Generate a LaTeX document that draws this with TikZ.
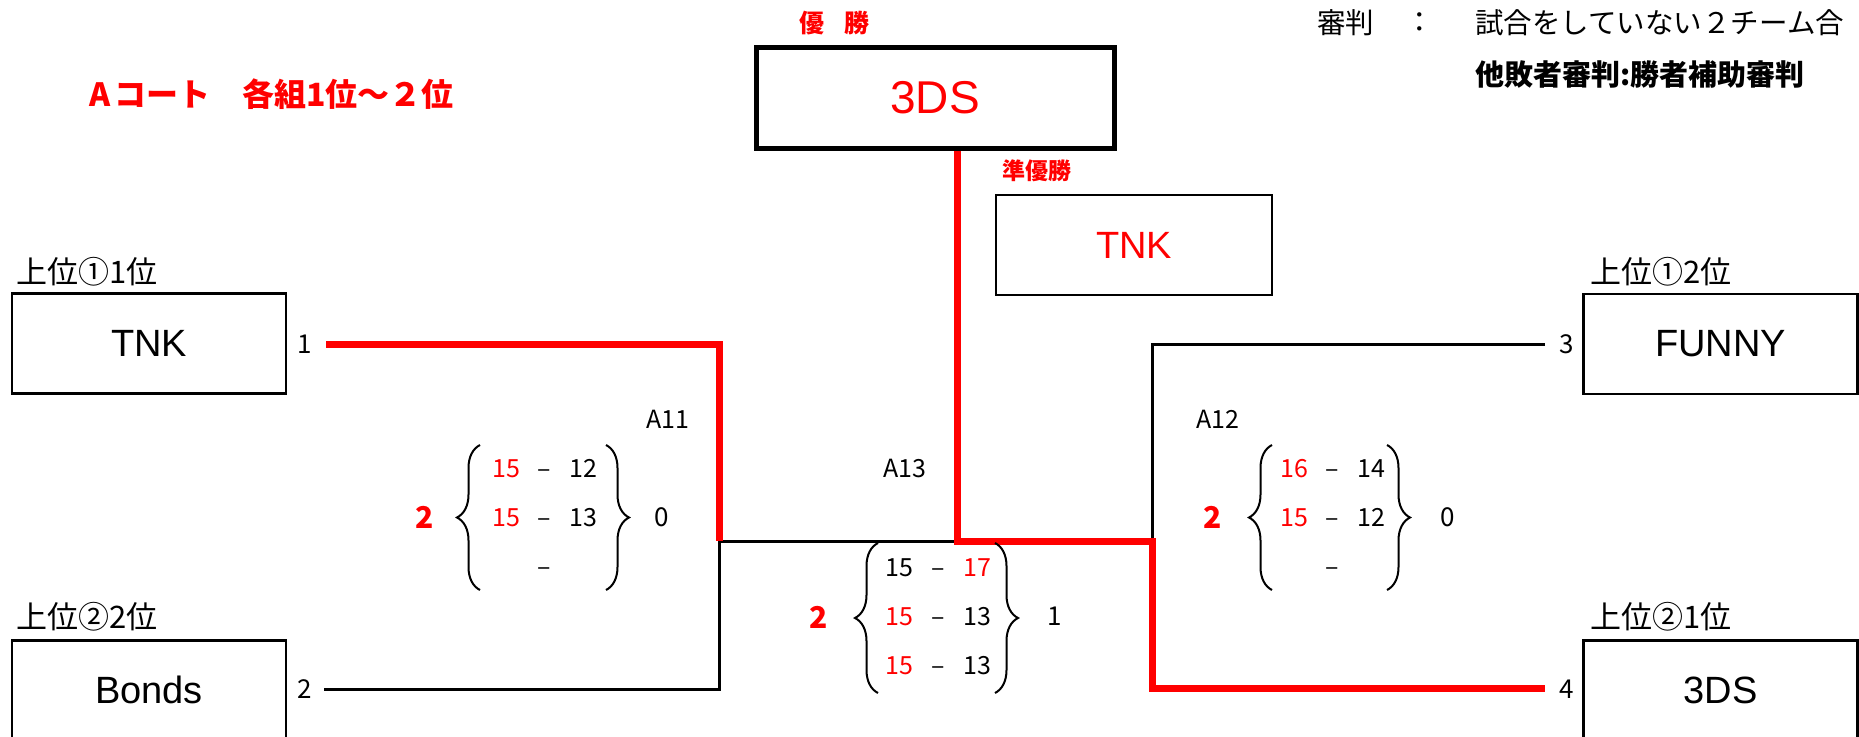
\documentclass[tikz,border=0pt]{standalone}
\usepackage{fontspec}
\setmainfont{Liberation Sans}
\newfontfamily\jp{Noto Sans CJK JP}
\usetikzlibrary{decorations.pathreplacing}
\tikzset{
  teambox/.style={draw, line width=2.7pt, minimum width=274pt, minimum height=100pt, inner sep=0pt, font=\fontsize{38}{40}\selectfont},
  blk/.style={draw=black, line width=3pt},
  redl/.style={draw=red, line width=7pt},
  lab/.style={font=\jp\fontsize{31}{32}\selectfont, inner sep=0pt},
  port/.style={font=\jp\fontsize{26}{28}\selectfont, inner sep=0pt, text height=19pt, text depth=0pt},
  sc/.style={font=\jp\fontsize{25}{28}\selectfont, inner sep=0pt, text height=18pt, text depth=0pt},
  win2/.style={font=\jp\bfseries\fontsize{30}{32}\selectfont, text=red, inner sep=0pt},
  bracek/.style={decorate, decoration={brace, amplitude=23pt}, line width=2pt},
}
\begin{document}
\begin{tikzpicture}[x=1pt,y=-1pt]
\useasboundingbox (0,0) rectangle (1859,736);

% headings
\node[font=\jp\bfseries\fontsize{32}{34}\selectfont, text=red, anchor=west, inner sep=0pt] (ttl) at (89,94) {A\hspace{4pt}コート　各組1位～２位};
\node[font=\jp\bfseries\fontsize{25}{28}\selectfont, text=red, inner sep=0pt] (yusho) at (834,23) {優\hspace{20pt}勝};
\node[font=\jp\bfseries\fontsize{23}{26}\selectfont, text=red, inner sep=0pt] (jun) at (1037,171) {準優勝};
\node[font=\jp\fontsize{28.5}{30}\selectfont, anchor=west, inner sep=0pt] (ref1) at (1317,23) {審判};
\node[font=\jp\fontsize{28.5}{30}\selectfont, inner sep=0pt] (ref2) at (1420,23) {：};
\node[font=\jp\fontsize{28.5}{30}\selectfont, anchor=west, inner sep=0pt] (ref3) at (1475,23) {試合をしていない２チーム合};
\node[font=\jp\bfseries\fontsize{29}{32}\selectfont, anchor=west, inner sep=0pt] (ref4) at (1475,75) {他敗者審判:勝者補助審判};

% champion boxes
\node[draw, line width=5pt, minimum width=358pt, minimum height=101pt, text=red, font=\fontsize{46}{48}\selectfont] (win) at (935,97.5) {3DS};
\node[teambox, text=red, minimum width=276pt] (ru) at (1134,245) {TNK};

% team boxes
\node[teambox] (tnk) at (149,343.5) {TNK};
\node[teambox] (fun) at (1720.5,344) {FUNNY};
\node[teambox, anchor=north] (bon) at (149,639) {Bonds};
\node[teambox, anchor=north] (tds) at (1720.5,639) {3DS};

\node[lab, anchor=west] (l1) at (16,272) {上位①1位};
\node[lab, anchor=west] (l2) at (16,617) {上位②2位};
\node[lab, anchor=west] (l3) at (1590,272) {上位①2位};
\node[lab, anchor=west] (l4) at (1590,617) {上位②1位};

\node[port] (n1) at (305,344) {1};
\node[port] (n2) at (305,689) {2};
\node[port] (n3) at (1567,344) {3};
\node[port] (n4) at (1567,689) {4};

% connectors
\coordinate (e1) at (326,344);
\coordinate (e2) at (324,689);
\coordinate (e3) at (1545,344);
\coordinate (e4) at (1545,688);
\coordinate (j11) at (719,541);
\coordinate (j12) at (1152,541);
\coordinate (jw) at (957,541);
\draw[blk] (e2) -- (e2 -| j11) -- (j11) -- (jw);
\draw[blk] (e3) -- (e3 -| j12) -- (j12);
\draw[redl] (e1) -- (e1 -| j11) -- (j11);
\draw[redl] ([xshift=22pt]win.south) -- (jw) -- (j12) -- (e4 -| j12) -- (e4);

% A11
\node[sc] (a11) at (668,419) {A11};
\draw[bracek] (480,590) -- (480,445);
\draw[bracek] (606,445) -- (606,590);
\node[win2] (a11w) at (425,517) {2};
\node[port] (a11l) at (662,517) {0};
\node[sc, text=red] (a11a) at (506,468) {15};
\node[sc] (a11b) at (544,468) {–};
\node[sc] (a11c) at (583,468) {12};
\node[sc, text=red] (a11d) at (506,517) {15};
\node[sc] (a11e) at (544,517) {–};
\node[sc] (a11f) at (583,517) {13};
\node[sc] (a11g) at (544,566) {–};

% A13
\node[sc] (a13) at (905,468) {A13};
\draw[bracek] (878,693) -- (878,543);
\draw[bracek] (995,543) -- (995,693);
\node[win2] (a13w) at (819,617) {2};
\node[port] (a13l) at (1055,616) {1};
\node[sc] (a13a) at (899,567) {15};
\node[sc] (a13b) at (938,567) {–};
\node[sc, text=red] (a13c) at (977,567) {17};
\node[sc, text=red] (a13d) at (899,616) {15};
\node[sc] (a13e) at (938,616) {–};
\node[sc] (a13f) at (977,616) {13};
\node[sc, text=red] (a13g) at (899,665) {15};
\node[sc] (a13h) at (938,665) {–};
\node[sc] (a13i) at (977,665) {13};

% A12
\node[sc] (a12) at (1218,419) {A12};
\draw[bracek] (1272,590) -- (1272,445);
\draw[bracek] (1387,445) -- (1387,590);
\node[win2] (a12w) at (1213,517) {2};
\node[port] (a12l) at (1448,517) {0};
\node[sc, text=red] (a12a) at (1294,468) {16};
\node[sc] (a12b) at (1332,468) {–};
\node[sc] (a12c) at (1371,468) {14};
\node[sc, text=red] (a12d) at (1294,517) {15};
\node[sc] (a12e) at (1332,517) {–};
\node[sc] (a12f) at (1371,517) {12};
\node[sc] (a12g) at (1332,566) {–};
\end{tikzpicture}
\end{document}
